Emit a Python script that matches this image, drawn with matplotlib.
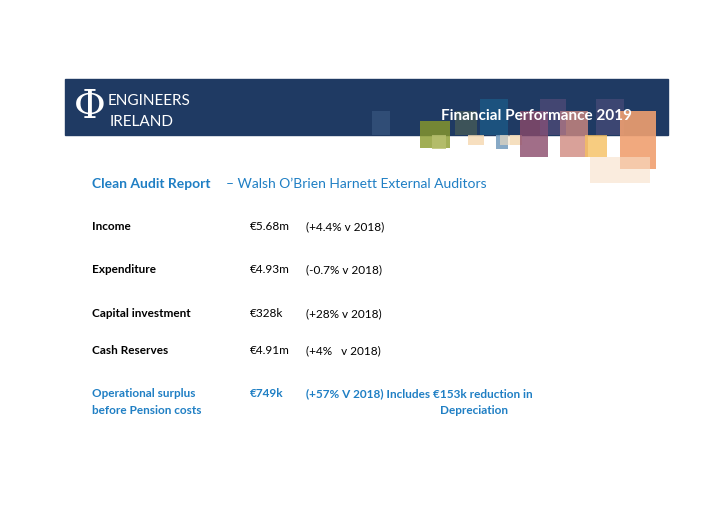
import matplotlib.pyplot as plt
from matplotlib.patches import Rectangle

labels = ["Income", "Expenditure", "Capital investment", "Cash Reserves"]
amounts = ["€5.68m", "€4.93m", "€328k", "€4.91m"]
changes = ["(+4.4% v 2018)", "(-0.7% v 2018)", "(+28% v 2018)", "(+4%   v 2018)"]
rows_y = [227, 270, 314, 351]

# decorative squares: x, y, w, h, colour, alpha
squares = [
    (372, 112, 18, 24, "#4a6a94", 0.4), (420, 122, 30, 27, "#8a9a2a", 0.8),
    (432, 136, 14, 14, "#b8c070", 0.8), (455, 112, 22, 24, "#6b7a4a", 0.4),
    (480, 100, 28, 36, "#1a6a9a", 0.5), (496, 136, 12, 14, "#7aa0c0", 0.9),
    (468, 136, 16, 10, "#f5d8b0", 0.8), (510, 136, 12, 10, "#f5d8b0", 0.8),
    (520, 112, 28, 46, "#8a4a6a", 0.8), (560, 112, 28, 46, "#d08a80", 0.8),
    (540, 100, 26, 36, "#7a5a8a", 0.4), (585, 136, 22, 22, "#f5c060", 0.8),
    (596, 100, 28, 36, "#6a5a8a", 0.4), (620, 112, 36, 58, "#f0a070", 0.9),
    (590, 158, 60, 26, "#f8e0c8", 0.6), (500, 136, 20, 10, "#f5e0c0", 0.6),
]

fig = plt.figure(figsize=(7.2, 5.1), dpi=100)
ax = fig.add_axes([0, 0, 1, 1])
ax.set_xlim(0, 720)
ax.set_ylim(510, 0)
ax.axis("off")

ax.add_patch(Rectangle((65, 80), 603, 56, color="#1f3a63", zorder=1))
for x, y, w, h, c, a in squares:
    ax.add_patch(Rectangle((x, y), w, h, color=c, alpha=a, zorder=2, lw=0))

ax.text(90, 108, "Φ", color="white", fontsize=28, va="center", ha="center",
        zorder=3, family="DejaVu Serif")
ax.text(108, 101, "ENGINEERS", color="white", fontsize=11, va="center", zorder=3,
        family="Lato")
ax.text(110, 122, "IRELAND", color="white", fontsize=11, va="center", zorder=3,
        family="Lato")
ax.text(632, 116, "Financial Performance 2019", color="white", fontsize=11,
        weight="bold", ha="right", va="center", zorder=5, family="Lato")

blue = "#1f7fc4"
ax.text(92, 184, "Clean Audit Report", color=blue, fontsize=10, weight="bold",
        va="center", family="Lato")
ax.text(226, 184, "– Walsh O’Brien Harnett External Auditors", color=blue,
        fontsize=10, va="center", family="Lato")

for lab, amt, ch, y in zip(labels, amounts, changes, rows_y):
    ax.text(92, y, lab, fontsize=8.5, weight="bold", va="center", family="Lato")
    ax.text(250, y, amt, fontsize=8.5, va="center", family="Lato")
    ax.text(306, y, ch, fontsize=8.5, va="center", family="Lato")

ax.text(92, 394, "Operational surplus", color=blue, fontsize=8.5, weight="bold", va="center", family="Lato")
ax.text(92, 411, "before Pension costs", color=blue, fontsize=8.5, weight="bold", va="center", family="Lato")
ax.text(250, 394, "€749k", color=blue, fontsize=8.5, weight="bold", va="center", family="Lato")
ax.text(306, 394, "(+57% V 2018) Includes €153k reduction in", color=blue, fontsize=8.5,
        weight="bold", va="center", family="Lato")
ax.text(440, 411, "Depreciation", color=blue, fontsize=8.5, weight="bold", va="center", family="Lato")

fig.savefig("out.png", dpi=100)
